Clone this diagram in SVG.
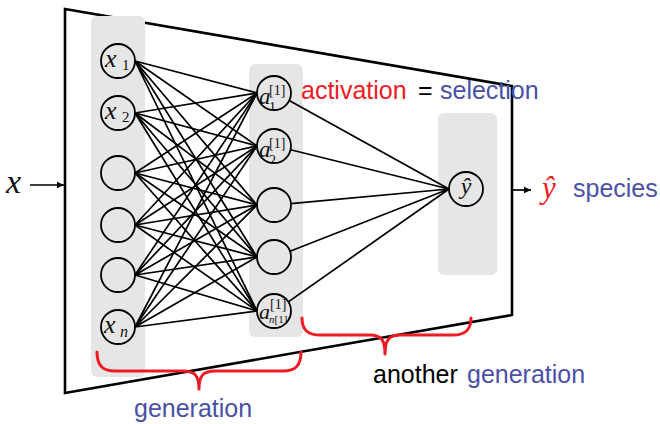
<svg xmlns="http://www.w3.org/2000/svg" width="660" height="424" viewBox="0 0 660 424">
<style>
.col{fill:#e6e6e6}
.node{fill:none;stroke:#000;stroke-width:1.8}
.edge{stroke:#000;stroke-width:1.7;fill:none}
.frame{fill:none;stroke:#000;stroke-width:2.6;stroke-linejoin:miter}
.brace{fill:none;stroke:#ec1c24;stroke-width:3;stroke-linecap:round;stroke-linejoin:round}
.math{font-family:"Liberation Serif","DejaVu Serif",serif;font-style:italic;fill:#111}
.num{font-family:"Liberation Serif","DejaVu Serif",serif;font-style:normal;fill:#111}
.sans{font-family:"Liberation Sans",Arial,sans-serif;font-size:25px}
.red{fill:#ec1c24}
.blue{fill:#4a50a5}
.blk{fill:#000}
</style>
<defs>
<marker id="arr" markerWidth="8" markerHeight="8" refX="7" refY="4" orient="auto" markerUnits="userSpaceOnUse">
<path d="M0,0.8 L7,4 L0,7.2 Z" fill="#000"/>
</marker>
<clipPath id="cA1"><circle cx="274" cy="93" r="17"/></clipPath>
<clipPath id="cA2"><circle cx="274" cy="146" r="17"/></clipPath>
<clipPath id="cAn"><circle cx="274" cy="311" r="17"/></clipPath>
</defs>

<g id="frame">
<polygon class="frame" points="65,9 512,86 512,315 65,393"/>
</g>

<g id="columns">
<rect class="col" x="91" y="16" width="54" height="361" rx="6"/>
<rect class="col" x="249" y="64" width="54" height="273" rx="6"/>
<rect class="col" x="438" y="113" width="59" height="162" rx="6"/>
</g>

<g id="connectors">
<line class="edge" x1="30" y1="185" x2="64" y2="185" marker-end="url(#arr)"/>
<line class="edge" x1="513" y1="190" x2="531" y2="190" marker-end="url(#arr)"/>
<g id="layer1">
<path class="edge" d="M135,61 L257,93 M135,61 L257,146 M135,61 L257,205 M135,61 L257,257 M135,61 L257,311"/>
<path class="edge" d="M135,113 L257,93 M135,113 L257,146 M135,113 L257,205 M135,113 L257,257 M135,113 L257,311"/>
<path class="edge" d="M135,173 L257,93 M135,173 L257,146 M135,173 L257,205 M135,173 L257,257 M135,173 L257,311"/>
<path class="edge" d="M135,225 L257,93 M135,225 L257,146 M135,225 L257,205 M135,225 L257,257 M135,225 L257,311"/>
<path class="edge" d="M135,275 L257,93 M135,275 L257,146 M135,275 L257,205 M135,275 L257,257 M135,275 L257,311"/>
<path class="edge" d="M135,327 L257,93 M135,327 L257,146 M135,327 L257,205 M135,327 L257,257 M135,327 L257,311"/>
</g>
<g id="layer2">
<path class="edge" d="M289.2,100.6 L449,189 M290.6,149.7 L449,189 M290.9,203.6 L449,189 M290,251.3 L449,189 M288.3,301.9 L449,189"/>
</g>
</g>

<g id="x1"><circle class="node" cx="118" cy="61" r="17"/><text class="math" x="105" y="67" font-size="26">x</text><text class="num" x="122" y="70" font-size="15">1</text></g>
<g id="x2"><circle class="node" cx="118" cy="113" r="17"/><text class="math" x="105" y="119" font-size="26">x</text><text class="num" x="122" y="122" font-size="15">2</text></g>
<g id="x3"><circle class="node" cx="118" cy="173" r="17"/></g>
<g id="x4"><circle class="node" cx="118" cy="225" r="17"/></g>
<g id="x5"><circle class="node" cx="118" cy="275" r="17"/></g>
<g id="xn"><circle class="node" cx="118" cy="327" r="17"/><text class="math" x="104" y="333" font-size="26">x</text><text class="math" x="120" y="337" font-size="16">n</text></g>

<g id="a1"><circle class="node" cx="274" cy="93" r="17"/><g clip-path="url(#cA1)"><text class="math" x="259" y="104" font-size="23">a</text><text class="num" x="269" y="95" font-size="14">[1]</text><text class="num" x="269" y="112" font-size="14">1</text></g></g>
<g id="a2"><circle class="node" cx="274" cy="146" r="17"/><g clip-path="url(#cA2)"><text class="math" x="259" y="157" font-size="23">a</text><text class="num" x="269" y="148" font-size="14">[1]</text><text class="num" x="269" y="165" font-size="14">2</text></g></g>
<g id="a3"><circle class="node" cx="274" cy="205" r="17"/></g>
<g id="a4"><circle class="node" cx="274" cy="257" r="17"/></g>
<g id="an"><circle class="node" cx="274" cy="311" r="17"/><g clip-path="url(#cAn)"><text class="math" x="259" y="319" font-size="22">a</text><text class="num" x="270" y="309" font-size="14">[1]</text><text class="math" x="269" y="323" font-size="11">n<tspan class="num" font-size="11">[1]</tspan></text></g></g>

<g id="yhat"><circle class="node" cx="466" cy="189" r="17"/><text class="math" x="466" y="194" font-size="24" text-anchor="middle">ŷ</text></g>

<g id="labels">
<text class="math" x="6" y="193" font-size="34">x</text>
<text class="math red" x="549" y="198" font-size="31" text-anchor="middle" style="fill:#ec1c24">ŷ</text>
<text class="sans blue" x="573" y="197">species</text>
<text class="sans" y="99"><tspan class="red" x="301">activation</tspan><tspan class="blk" x="418">=</tspan><tspan class="blue" x="440">selection</tspan></text>
<text class="sans" y="383"><tspan class="blk" x="373">another</tspan><tspan class="blue" x="467">generation</tspan></text>
<text class="sans blue" x="134" y="417">generation</text>
</g>

<g id="braces">
<path class="brace" d="M97,352 C97,366 103,371 115,371 L183,371 C195,371 199,376 199,389 C199,376 203,371 215,371 L283,371 C295,371 301,366 301,352"/>
<path class="brace" d="M302,318 C302,330 308,335 320,335 L370,335 C381,335 385,340 385,354 C385,340 389,335 400,335 L453,335 C465,335 471,330 471,318"/>
</g>
</svg>
